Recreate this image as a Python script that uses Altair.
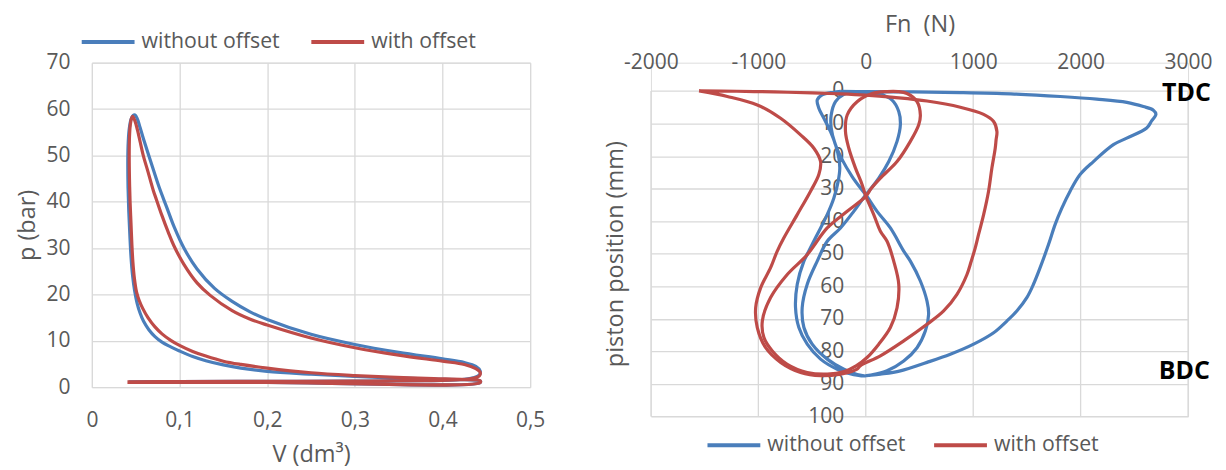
import altair as alt
import pandas as pd

SERIES = ["without offset", "with offset"]
COLORS = ["#4A7EBB", "#BE4B48"]

# ---------------- p-V diagram: (V [dm3], p [bar]) ----------------
PV_WITHOUT = [
    (0.042, 1.0), (0.2, 1.0), (0.443, 1.0),
    (0.443, 1.35), (0.425, 1.6), (0.39, 1.75), (0.34, 2.0), (0.3, 2.3), (0.25, 2.8),
    (0.2, 3.4), (0.17, 4.1), (0.15, 4.8), (0.13, 5.7), (0.115, 6.6), (0.1, 7.8),
    (0.09, 8.7), (0.08, 9.7), (0.072, 10.9), (0.065, 12.4), (0.059, 14.2),
    (0.055, 16.0), (0.0515, 18.2), (0.0488, 20.8), (0.0465, 24.0), (0.0447, 28.0),
    (0.0433, 33.0), (0.0421, 38.0), (0.0413, 43.0), (0.041, 48.0), (0.0413, 52.0),
    (0.0425, 55.5), (0.0447, 57.8), (0.047, 58.6), (0.0492, 58.7),
    (0.052, 57.8), (0.055, 56.0), (0.059, 53.5), (0.064, 50.5), (0.07, 47.0),
    (0.077, 43.0), (0.085, 39.0), (0.094, 34.5), (0.105, 30.0), (0.12, 25.5),
    (0.14, 21.3), (0.16, 18.5), (0.18, 16.3), (0.2, 14.6), (0.25, 11.4), (0.3, 9.2),
    (0.35, 7.5), (0.4, 6.1), (0.425, 5.3), (0.438, 4.5), (0.443, 3.5), (0.442, 2.6),
    (0.435, 2.0), (0.42, 1.6), (0.38, 1.4), (0.3, 1.3), (0.2, 1.25), (0.1, 1.2),
    (0.042, 1.15),
]
PV_WITH = [
    (0.0406, 1.0), (0.2, 1.0), (0.443, 1.0),
    (0.443, 1.35), (0.425, 1.65), (0.39, 1.85), (0.34, 2.15), (0.3, 2.5), (0.25, 3.1),
    (0.2, 4.1), (0.17, 4.9), (0.15, 5.6), (0.13, 6.7), (0.115, 7.7), (0.1, 9.0),
    (0.09, 10.1), (0.08, 11.5), (0.072, 13.0), (0.064, 15.0), (0.058, 17.0),
    (0.054, 18.7), (0.051, 20.5), (0.0485, 23.5), (0.0468, 27.0), (0.0456, 31.0),
    (0.0446, 35.5), (0.0436, 40.0), (0.0429, 45.0), (0.0426, 50.0), (0.0429, 54.0),
    (0.0438, 56.5), (0.0452, 58.0), (0.0465, 58.4),
    (0.049, 57.5), (0.052, 55.5), (0.055, 53.0), (0.0586, 50.0), (0.064, 46.5),
    (0.07, 42.5), (0.0736, 40.5), (0.08, 37.0), (0.087, 33.5), (0.0936, 30.5),
    (0.105, 26.5), (0.12, 22.5), (0.135, 19.8), (0.16, 16.5), (0.18, 14.7), (0.2, 13.4),
    (0.25, 10.6), (0.3, 8.5), (0.35, 6.9), (0.4, 5.6), (0.425, 4.9), (0.438, 4.0),
    (0.443, 3.2), (0.442, 2.4), (0.435, 1.9), (0.42, 1.6), (0.38, 1.4), (0.3, 1.3),
    (0.2, 1.25), (0.1, 1.2), (0.0406, 1.15),
]
PV_X_TICKS = [0, 0.1, 0.2, 0.3, 0.4, 0.5]
PV_Y_TICKS = [0, 10, 20, 30, 40, 50, 60, 70]

# ---------------- Fn vs piston position: (Fn [N], position [mm]) ----------------
FN_WITHOUT = [
    (-235, 0.1), (0, 0.2), (440, 0.3), (880, 0.5), (1350, 0.9), (1810, 1.7), (2150, 2.5),
    (2430, 3.5), (2584, 4.8), (2677, 5.9), (2701, 7.15), (2661, 9.2), (2615, 11.4),
    (2429, 14.5), (2305, 16.5), (2119, 21.7), (1995, 25.7), (1902, 30.8), (1825, 36.0),
    (1763, 41.0), (1701, 47.2), (1623, 54.3), (1561, 59.4), (1499, 63.5), (1406, 67.6),
    (1313, 70.7), (1190, 74.3), (1004, 77.8), (787, 80.9), (570, 83.4), (322, 86.0),
    (136, 87.0), (0, 87.5),
    (43, 87.3), (198, 86.0), (353, 83.0), (477, 78.9), (555, 73.7), (585, 68.6),
    (570, 64.6), (508, 58.4), (415, 52.3), (353, 49.2), (229, 42.1), (105, 37.0),
    (0, 31.9), (-50, 29.8), (-127, 26.3), (-220, 21.1), (-288, 16.0), (-322, 11.4),
    (-322, 7.4), (-282, 3.3), (-204, 1.0), (-100, 0.4),
    (12, 0.7), (136, 1.0), (245, 2.8), (307, 6.3), (322, 10.4), (291, 15.5), (214, 21.7),
    (121, 26.8), (28, 30.8), (0, 31.9), (-112, 37.0), (-235, 42.1), (-359, 46.2),
    (-452, 52.3), (-545, 59.4), (-592, 66.6), (-576, 72.7), (-499, 77.8), (-359, 82.4),
    (-204, 85.5), (-80, 87.1), (0, 87.6),
    (-112, 87.2), (-266, 85.5), (-421, 82.4), (-545, 77.8), (-623, 72.7), (-654, 66.6),
    (-638, 59.4), (-576, 52.3), (-530, 49.2), (-452, 44.1), (-359, 38.0), (-297, 32.9),
    (-257, 27.8), (-242, 23.7), (-251, 20.6), (-282, 16.5), (-328, 12.5), (-390, 8.4),
    (-437, 5.3), (-452, 2.8), (-406, 1.2), (-300, 0.4), (-235, 0.1),
]
FN_WITH_OUTER = [
    (-1552, 0.0), (-1200, 0.1), (-855, 0.3), (-500, 0.6), (-235, 0.9), (0, 1.3),
    (260, 2.0), (570, 3.1), (880, 5.0), (1097, 7.2), (1190, 9.4), (1221, 12.5),
    (1213, 15.0), (1205, 17.6), (1174, 23.7), (1143, 30.8), (1097, 38.0), (1050, 44.1),
    (1019, 48.2), (980, 52.5), (942, 56.4), (849, 62.5), (725, 67.6), (570, 71.7),
    (353, 76.8), (136, 81.4), (-50, 84.4), (-81, 85.5), (-235, 87.0), (-421, 87.5),
    (-607, 86.5), (-793, 83.4), (-932, 78.9), (-1010, 72.7), (-1025, 66.6), (-979, 60.5),
    (-886, 54.3), (-824, 49.2), (-762, 45.1), (-638, 38.0), (-514, 30.8), (-437, 25.7),
    (-421, 21.7), (-483, 17.6), (-607, 13.5), (-793, 8.4), (-1010, 4.3), (-1289, 1.7),
    (-1552, 0.0),
]
FN_WITH_INNER = [
    (0, 32.4), (-34, 28.8), (-96, 23.7), (-158, 17.6), (-189, 12.5), (-173, 7.4),
    (-81, 3.3), (60, 0.8), (198, 0.2), (300, 0.2), (384, 0.8), (477, 3.3), (508, 7.4),
    (493, 10.4), (415, 15.5), (291, 21.7), (136, 26.8), (50, 30.0), (0, 32.4),
    (-173, 37.0), (-359, 42.1), (-545, 50.3), (-731, 56.4), (-886, 63.5), (-963, 70.7),
    (-948, 75.8), (-870, 79.9), (-731, 84.0), (-545, 86.5), (-359, 87.0), (-200, 86.2),
    (-90, 84.5), (12, 81.9), (121, 77.8), (229, 72.7), (291, 66.6), (307, 59.4),
    (260, 52.3), (198, 46.2), (136, 43.1), (74, 38.0), (0, 32.4),
]
FN_X_TICKS = [-2000, -1000, 0, 1000, 2000, 3000]
FN_Y_TICKS = [0, 10, 20, 30, 40, 50, 60, 70, 80, 90, 100]
FN_Y_RANGE = [0, 100]
MARK_TEXT = ["TDC", "BDC"]
MARK_FN = [2985, 2965]
MARK_POS = [0.6, 86.2]

FONT = "Open Sans"
GRAY = "#595959"
GRID = "#D9D9D9"


def frame(points, series, seg):
    return pd.DataFrame(
        {"x": [p[0] for p in points], "y": [p[1] for p in points],
         "series": series, "seg": seg, "idx": list(range(len(points)))}
    )


pv_df = pd.concat([frame(PV_WITHOUT, SERIES[0], "a"), frame(PV_WITH, SERIES[1], "a")])
fn_df = pd.concat([
    frame(FN_WITHOUT, SERIES[0], "a"),
    frame(FN_WITH_OUTER, SERIES[1], "a"),
    frame(FN_WITH_INNER, SERIES[1], "b"),
])
mark_df = pd.DataFrame({"t": MARK_TEXT, "x": MARK_FN, "y": MARK_POS})
vgrid_df = pd.DataFrame({"x": FN_X_TICKS, "y": FN_Y_RANGE[0], "y2": FN_Y_RANGE[1]})


def legend(lx, ly, colpad):
    return alt.Legend(
        orient="none", legendX=lx, legendY=ly, direction="horizontal", title=None,
        symbolType="stroke", symbolSize=2800, symbolStrokeWidth=4,
        labelFont=FONT, labelFontSize=21.3, labelColor=GRAY, labelOffset=5,
        columnPadding=colpad, padding=0,
    )


axis_common = dict(
    domain=False, ticks=False, tickSize=0, gridColor=GRID, gridWidth=1.3,
    labelFont=FONT, labelFontSize=21, labelColor=GRAY, labelFlush=False,
    labelOverlap=False, titleFont=FONT, titleFontSize=23.5, titleColor=GRAY,
    titleFontWeight="normal",
)

# ---------------- left chart ----------------
pv_color = alt.Color("series:N", scale=alt.Scale(domain=SERIES, range=COLORS),
                     legend=legend(-12.2, -49.3, 23))
pv_x = alt.X("x:Q", scale=alt.Scale(domain=[0, 0.5], nice=False),
             axis=alt.Axis(values=PV_X_TICKS, format=".1~f", grid=True,
                           labelExpr="replace(datum.label, '.', ',')",
                           labelPadding=22, titlePadding=12, title="V (dm³)", **axis_common))
pv_y = alt.Y("y:Q", scale=alt.Scale(domain=[0, 70], nice=False),
             axis=alt.Axis(values=PV_Y_TICKS, grid=True, labelPadding=22, titlePadding=6,
                           title="p (bar)", **axis_common))

pv_base = alt.Chart(pv_df)
pv_lines = [
    pv_base.transform_filter(alt.datum.series == s).mark_line(
        strokeWidth=3.2, interpolate="catmull-rom", clip=False
    ).encode(x=pv_x, y=pv_y, color=pv_color, detail="seg:N", order="idx:Q")
    for s in SERIES
]
left = alt.layer(*pv_lines).properties(width=439, height=325)

# ---------------- right chart ----------------
RW, RH = 538, 326          # size of the 0..100 mm region
EXTRA = 28.3               # room above 0 mm so that both plots start where they should
PX_PER_MM = RH / 100.0
RH_TOTAL = RH + EXTRA
y_min = -EXTRA / PX_PER_MM
zero_px = RW * 2000 / 5000

fn_color = alt.Color("series:N", scale=alt.Scale(domain=SERIES, range=COLORS),
                     legend=legend(54.6, 354.6, 20))
fn_x = alt.X("x:Q", scale=alt.Scale(domain=[-2000, 3000], nice=False),
             axis=alt.Axis(orient="top", values=FN_X_TICKS, grid=False, offset=-EXTRA,
                           labelExpr="datum.value < 0 ? '-' + format(-datum.value, 'd') : format(datum.value, 'd')",
                           labelPadding=18, titlePadding=15.5, title="Fn\u00a0 (N)", **axis_common))
fn_y = alt.Y("y:Q", scale=alt.Scale(domain=[y_min, 100], reverse=True, nice=False, zero=False),
             axis=alt.Axis(values=FN_Y_TICKS, grid=True, offset=-zero_px, labelPadding=22,
                           title="piston position (mm)", titleX=-23 - zero_px,
                           titleY=EXTRA + RH / 2, **axis_common))

vgrid = alt.Chart(vgrid_df).mark_rule(color=GRID, strokeWidth=1.3).encode(
    x=fn_x, y=fn_y, y2="y2:Q")
fn_base = alt.Chart(fn_df)
fn_lines = [
    fn_base.transform_filter(alt.datum.series == s).mark_line(
        strokeWidth=3.2, interpolate="catmull-rom", clip=False
    ).encode(x=fn_x, y=fn_y, color=fn_color, detail="seg:N", order="idx:Q")
    for s in SERIES
]
fn_marks = alt.Chart(mark_df).mark_text(
    font=FONT, fontSize=25, fontWeight="bold", color="black", align="center", baseline="middle"
).encode(x=fn_x, y=fn_y, text="t:N")
right = alt.layer(vgrid, *fn_lines, fn_marks).properties(width=RW, height=RH_TOTAL)

chart = alt.hconcat(left, right, spacing=57).resolve_scale(
    color="independent", x="independent", y="independent"
).resolve_legend(color="independent").properties(
    padding={"left": 7, "top": 3.4, "right": 5, "bottom": 3}
).configure_view(stroke=None).configure(font=FONT)

chart.save("out.html", embed_options={"renderer": "svg", "actions": False})
